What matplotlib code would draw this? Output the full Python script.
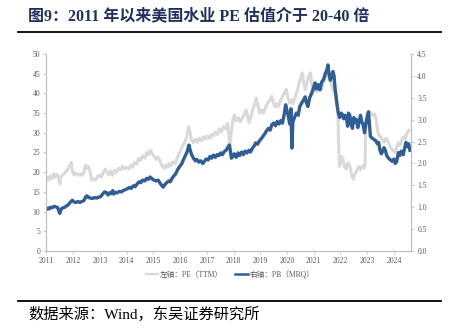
import matplotlib.pyplot as plt
from matplotlib.lines import Line2D
from matplotlib.ticker import FormatStrFormatter

# PE (TTM), left axis; x in decimal years
pe_t = [2011.00, 2011.05, 2011.10, 2011.15, 2011.20, 2011.28, 2011.33, 2011.40, 2011.45, 2011.50,
        2011.53, 2011.60, 2011.68, 2011.75, 2011.82, 2011.88, 2011.93, 2011.97, 2012.02, 2012.10,
        2012.18, 2012.25, 2012.32, 2012.40, 2012.47, 2012.52, 2012.58, 2012.63, 2012.68, 2012.75,
        2012.82, 2012.90, 2012.97, 2013.05, 2013.12, 2013.20, 2013.27, 2013.33, 2013.40, 2013.47,
        2013.55, 2013.62, 2013.70, 2013.78, 2013.85, 2013.92, 2014.00, 2014.08, 2014.15, 2014.22,
        2014.30, 2014.38, 2014.45, 2014.52, 2014.60, 2014.68, 2014.75, 2014.82, 2014.88, 2014.95,
        2015.02, 2015.10, 2015.18, 2015.25, 2015.32, 2015.40, 2015.45, 2015.52, 2015.58, 2015.65,
        2015.72, 2015.80, 2015.87, 2015.95, 2016.02, 2016.10, 2016.18, 2016.25, 2016.32, 2016.36,
        2016.42, 2016.50, 2016.57, 2016.65, 2016.72, 2016.80, 2016.88, 2016.95, 2017.03, 2017.10,
        2017.18, 2017.25, 2017.32, 2017.40, 2017.47, 2017.55, 2017.62, 2017.70, 2017.77, 2017.82,
        2017.86, 2017.92, 2017.98, 2018.03, 2018.10, 2018.18, 2018.25, 2018.32, 2018.40, 2018.47,
        2018.53, 2018.58, 2018.63, 2018.70, 2018.78, 2018.85, 2018.92, 2018.98, 2019.05, 2019.12,
        2019.20, 2019.28, 2019.35, 2019.42, 2019.48, 2019.55, 2019.62, 2019.68, 2019.75, 2019.82,
        2019.90, 2019.97, 2020.03, 2020.10, 2020.17, 2020.22, 2020.30, 2020.38, 2020.45, 2020.52,
        2020.57, 2020.62, 2020.68, 2020.75, 2020.82, 2020.88, 2020.93, 2020.98, 2021.05, 2021.12,
        2021.20, 2021.28, 2021.35, 2021.42, 2021.50, 2021.55, 2021.60, 2021.67, 2021.73, 2021.80,
        2021.85, 2021.90, 2021.93, 2021.96, 2022.00, 2022.05, 2022.10, 2022.15, 2022.22, 2022.28,
        2022.35, 2022.42, 2022.48, 2022.55, 2022.62, 2022.68, 2022.75, 2022.82, 2022.88, 2022.92,
        2022.95, 2022.98, 2023.05, 2023.12, 2023.20, 2023.28, 2023.33, 2023.38, 2023.43, 2023.50,
        2023.57, 2023.63, 2023.70, 2023.77, 2023.83, 2023.90, 2023.97, 2024.03, 2024.10, 2024.17,
        2024.23, 2024.30, 2024.37, 2024.43, 2024.50, 2024.56]
pe_v = [17.8, 18.6, 18.0, 19.0, 18.4, 19.6, 18.8, 19.5, 18.6, 17.0,
        18.8, 19.2, 19.8, 20.3, 21.0, 21.8, 22.5, 20.5, 19.3, 19.8,
        19.2, 19.6, 19.2, 20.0, 21.8, 21.0, 21.4, 20.2, 18.0, 18.4,
        18.0, 18.8, 19.2, 18.7, 19.8, 20.8, 20.0, 19.3, 20.3, 19.2,
        20.5, 20.0, 21.0, 20.6, 21.5, 20.8, 21.2, 20.8, 21.8, 21.2,
        22.5, 22.0, 23.5, 23.0, 24.2, 23.6, 25.0, 24.4, 25.6, 24.8,
        24.2, 23.2, 23.8, 22.8, 21.6, 21.0, 21.8, 21.2, 22.2, 21.6,
        22.6, 22.2, 23.2, 24.5, 25.5, 26.8, 27.6, 29.0, 31.5, 30.5,
        28.2, 27.5, 28.4, 27.6, 28.6, 28.0, 29.0, 28.4, 29.2, 28.6,
        29.6, 29.2, 30.2, 29.6, 31.0, 30.2, 31.6, 31.0, 32.4, 30.0,
        26.5, 30.5, 33.5, 34.5, 33.0, 33.8, 32.8, 33.6, 34.6, 35.8,
        34.2, 32.5, 33.4, 35.5, 37.0, 38.8, 36.8, 35.0, 35.8, 35.0,
        36.4, 37.6, 38.2, 39.2, 37.8, 36.5, 37.4, 36.6, 38.0, 39.0,
        40.2, 41.0, 39.0, 37.6, 38.4, 37.4, 39.0, 40.5, 42.5, 44.0,
        45.2, 43.0, 41.0, 42.8, 44.5, 45.2, 42.0, 40.4, 41.2, 40.4,
        42.0, 41.0, 42.6, 43.5, 44.5, 45.0, 43.5, 42.0, 41.0, 39.5,
        37.5, 36.5, 28.0, 21.5, 22.5, 24.0, 23.0, 21.4, 20.8, 22.4,
        21.6, 19.2, 18.2, 19.6, 20.5, 21.4, 20.6, 21.6, 21.0, 22.0,
        33.0, 35.0, 34.6, 35.2, 34.4, 34.8, 33.5, 31.0, 29.5, 29.0,
        28.2, 27.6, 28.6, 28.0, 27.0, 26.0, 25.4, 25.0, 26.2, 27.5,
        26.8, 28.2, 29.0, 28.4, 30.0, 30.6]

# PB (MRQ), right axis
pb_t = [2011.00, 2011.05, 2011.10, 2011.15, 2011.22, 2011.28, 2011.35, 2011.42, 2011.47, 2011.50,
        2011.54, 2011.60, 2011.68, 2011.75, 2011.82, 2011.90, 2011.97, 2012.03, 2012.10, 2012.18,
        2012.25, 2012.32, 2012.40, 2012.47, 2012.52, 2012.58, 2012.65, 2012.72, 2012.80, 2012.88,
        2012.95, 2013.02, 2013.10, 2013.17, 2013.23, 2013.30, 2013.35, 2013.42, 2013.48, 2013.52,
        2013.58, 2013.65, 2013.72, 2013.80, 2013.87, 2013.95, 2014.02, 2014.10, 2014.17, 2014.25,
        2014.32, 2014.40, 2014.47, 2014.53, 2014.60, 2014.68, 2014.75, 2014.82, 2014.88, 2014.95,
        2015.02, 2015.10, 2015.18, 2015.25, 2015.32, 2015.37, 2015.43, 2015.50, 2015.57, 2015.63,
        2015.70, 2015.77, 2015.83, 2015.90, 2015.97, 2016.05, 2016.12, 2016.20, 2016.27, 2016.33,
        2016.38, 2016.43, 2016.50, 2016.57, 2016.63, 2016.70, 2016.77, 2016.85, 2016.92, 2016.98,
        2017.05, 2017.12, 2017.18, 2017.25, 2017.32, 2017.38, 2017.45, 2017.52, 2017.58, 2017.65,
        2017.72, 2017.78, 2017.84, 2017.88, 2017.92, 2017.97, 2018.03, 2018.10, 2018.17, 2018.23,
        2018.30, 2018.37, 2018.43, 2018.50, 2018.57, 2018.63, 2018.70, 2018.77, 2018.83, 2018.90,
        2018.97, 2019.03, 2019.10, 2019.17, 2019.23, 2019.30, 2019.37, 2019.43, 2019.50, 2019.57,
        2019.63, 2019.70, 2019.77, 2019.83, 2019.90, 2019.95, 2020.00, 2020.05, 2020.10, 2020.15,
        2020.18, 2020.22, 2020.28, 2020.35, 2020.42, 2020.48, 2020.55, 2020.62, 2020.68, 2020.72,
        2020.78, 2020.85, 2020.92, 2020.98, 2021.05, 2021.10, 2021.17, 2021.23, 2021.30, 2021.37,
        2021.43, 2021.50, 2021.53, 2021.57, 2021.62, 2021.67, 2021.72, 2021.76, 2021.80, 2021.84,
        2021.88, 2021.92, 2021.97, 2022.02, 2022.07, 2022.12, 2022.17, 2022.22, 2022.27, 2022.30,
        2022.35, 2022.40, 2022.45, 2022.50, 2022.55, 2022.60, 2022.65, 2022.70, 2022.75, 2022.80,
        2022.85, 2022.90, 2022.95, 2023.00, 2023.05, 2023.08, 2023.12, 2023.18, 2023.25, 2023.32,
        2023.38, 2023.43, 2023.48, 2023.53, 2023.58, 2023.63, 2023.68, 2023.73, 2023.80, 2023.87,
        2023.93, 2024.00, 2024.05, 2024.10, 2024.17, 2024.22, 2024.28, 2024.35, 2024.40, 2024.45,
        2024.50, 2024.55, 2024.60]
pb_v = [0.95, 0.98, 0.96, 1.00, 0.99, 1.02, 1.01, 0.99, 0.90, 0.86,
        0.95, 0.98, 1.00, 1.03, 1.06, 1.12, 1.16, 1.12, 1.11, 1.13,
        1.11, 1.13, 1.15, 1.24, 1.26, 1.22, 1.21, 1.20, 1.22, 1.21,
        1.23, 1.24, 1.30, 1.35, 1.34, 1.28, 1.33, 1.31, 1.38, 1.30,
        1.34, 1.33, 1.36, 1.35, 1.38, 1.40, 1.42, 1.45, 1.43, 1.49,
        1.47, 1.54, 1.58, 1.56, 1.62, 1.60, 1.66, 1.64, 1.69, 1.65,
        1.62, 1.60, 1.62, 1.55, 1.49, 1.46, 1.52, 1.56, 1.60, 1.58,
        1.66, 1.72, 1.76, 1.85, 1.92, 1.98, 2.08, 2.18, 2.28, 2.42,
        2.30, 2.20, 2.12, 2.06, 2.09, 2.03, 2.06, 2.00, 2.06, 2.10,
        2.08, 2.16, 2.12, 2.19, 2.14, 2.20, 2.18, 2.24, 2.20, 2.27,
        2.30, 2.36, 2.42, 2.30, 2.12, 2.16, 2.22, 2.14, 2.24, 2.18,
        2.26, 2.20, 2.28, 2.24, 2.30, 2.26, 2.34, 2.40, 2.47, 2.44,
        2.52, 2.56, 2.62, 2.68, 2.74, 2.80, 2.76, 2.88, 2.92, 2.86,
        2.96, 2.90, 2.98, 2.92, 3.14, 3.34, 3.20, 3.08, 2.90, 3.25,
        2.35, 2.95, 3.05, 3.15, 3.10, 3.30, 3.38, 3.45, 3.52, 3.40,
        3.30, 3.50, 3.60, 3.70, 3.84, 3.70, 3.80, 3.68, 3.86, 3.92,
        4.05, 4.15, 4.25, 4.05, 3.90, 4.00, 4.10, 4.00, 3.70, 3.52,
        3.30, 3.15, 3.05, 3.15, 3.12, 3.02, 3.10, 3.05, 2.85, 3.15,
        3.10, 2.90, 2.80, 3.05, 2.95, 3.00, 2.82, 2.95, 3.10, 2.95,
        2.88, 2.70, 2.90, 3.05, 3.18, 2.95, 2.62, 2.58, 2.55, 2.52,
        2.45, 2.48, 2.30, 2.22, 2.28, 2.36, 2.30, 2.18, 2.12, 2.08,
        2.05, 2.10, 2.00, 2.04, 2.25, 2.18, 2.28, 2.20, 2.35, 2.48,
        2.38, 2.45, 2.30]

years = list(range(2011, 2025))
pe_ticks = list(range(0, 55, 5))
pb_ticks = [i * 0.5 for i in range(10)]

PE_COLOR = "#d9d9d9"
PB_COLOR = "#2f5d96"
AXIS_COLOR = "#bfbfbf"
TEXT_COLOR = "#595959"
SERIF_CJK = ["Liberation Serif", "Noto Sans CJK SC"]

fig = plt.figure(figsize=(4.53, 3.29), dpi=100)
ax = fig.add_axes([0.1026, 0.237, 0.8047, 0.599])
ax2 = ax.twinx()

ax.plot(pe_t, pe_v, color=PE_COLOR, lw=2.2, solid_joinstyle="round")
ax2.plot(pb_t, pb_v, color=PB_COLOR, lw=2.4, solid_joinstyle="round")

ax.set_xlim(2011, 2024.64)
ax.set_ylim(0, 50)
ax2.set_ylim(0, 4.5)
ax.set_xticks(years)
ax.set_xticklabels([str(y) for y in years])
ax.set_yticks(pe_ticks)
ax2.set_yticks(pb_ticks)
ax2.yaxis.set_major_formatter(FormatStrFormatter("%.1f"))

for a in (ax, ax2):
    a.spines["top"].set_visible(False)
    for side in ("left", "right", "bottom"):
        a.spines[side].set_color(AXIS_COLOR)
        a.spines[side].set_linewidth(0.8)
    a.tick_params(colors=AXIS_COLOR, labelcolor=TEXT_COLOR, labelsize=5.5,
                  length=2.5, width=0.6, pad=2)
    for lbl in a.get_xticklabels() + a.get_yticklabels():
        lbl.set_family("Liberation Serif")

handles = [Line2D([], [], color=PE_COLOR, lw=1.6), Line2D([], [], color=PB_COLOR, lw=1.8)]
fig.legend(handles, ["左轴：PE（TTM）", "右轴：PB（MRQ）"], loc="center",
           bbox_to_anchor=(0.508, 1 - 275 / 329), ncol=2, frameon=False,
           handlelength=1.6, handletextpad=0.3, columnspacing=1.6,
           prop={"family": SERIF_CJK, "size": 5.5}, labelcolor=TEXT_COLOR)

fig.text(28 / 453, 1 - 16 / 329, "图9：2011 年以来美国水业 PE 估值介于 20-40 倍",
         family=SERIF_CJK, fontsize=11.5, fontweight="bold", color="#1f3060", va="center")
fig.add_artist(Line2D([18 / 453, 441 / 453], [1 - 32 / 329] * 2, color="black", lw=1.3))
fig.add_artist(Line2D([18 / 453, 441 / 453], [1 - 301 / 329] * 2, color="black", lw=1.3))
fig.text(28 / 453, 1 - 314 / 329, "数据来源：Wind，东吴证券研究所",
         family=SERIF_CJK, fontsize=11, color="black", va="center")

fig.savefig("out.png", dpi=100)
